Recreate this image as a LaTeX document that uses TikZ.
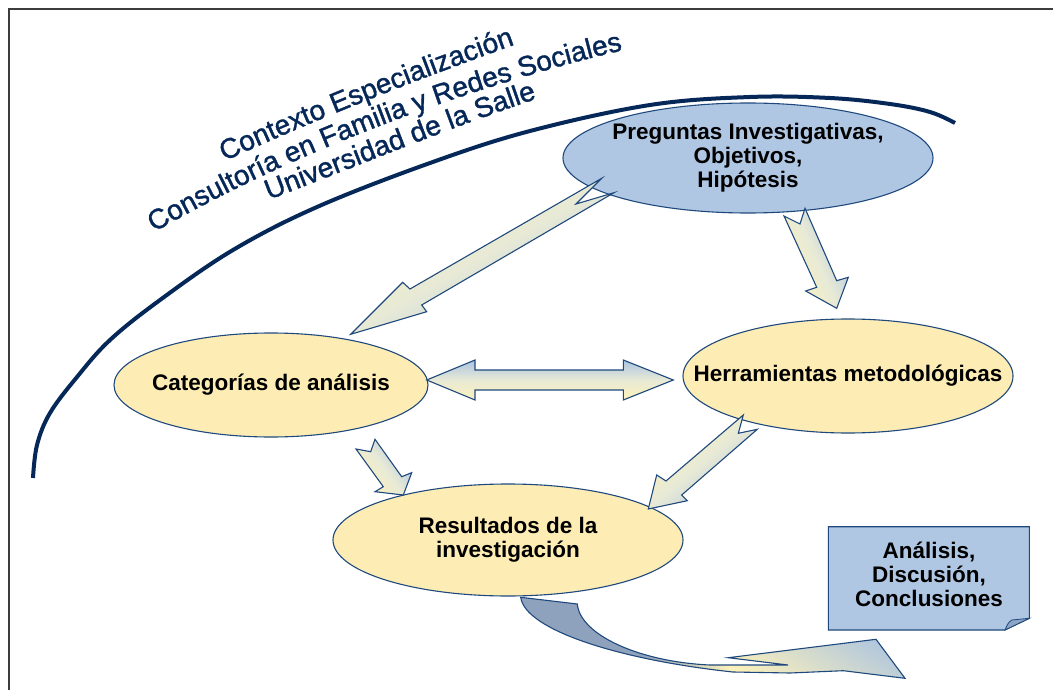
\documentclass[tikz,border=0pt]{standalone}
\usepackage{fontspec}
\setmainfont{Liberation Sans}
\newfontfamily\arcfam[FakeBold=1.3]{Liberation Sans}
\usetikzlibrary{shapes.geometric,decorations.text}
\definecolor{navy}{RGB}{31,73,125}
\definecolor{arcblue}{RGB}{6,40,88}
\definecolor{ellyel}{RGB}{253,237,181}
\definecolor{ellblu}{RGB}{176,199,228}
\definecolor{ayel}{RGB}{252,241,186}
\definecolor{ablu}{RGB}{170,195,225}
\definecolor{amid}{RGB}{232,234,214}
\definecolor{slate}{RGB}{142,162,189}
\definecolor{flapc}{RGB}{140,165,198}
\definecolor{framec}{RGB}{60,60,60}
\newcommand\nodefont{\bfseries\fontsize{22.5}{24}\selectfont}
\newcommand\arcfont{\arcfam\fontsize{28}{30}\selectfont}
\begin{document}
\begin{tikzpicture}[x=1pt,y=-1pt,
  ell/.style={ellipse, draw=navy, line width=1.1, inner sep=0pt},
  lbl/.style={align=center, font=\nodefont, text=black, inner sep=0pt},
  blk/.style={draw=navy, line width=1.1, line join=miter},
  grad/.style={top color=ayel, bottom color=ablu, middle color=amid, shading angle=#1},
  arctext/.style={decorate, decoration={text along path, text align=center, text color=arcblue, text={#1}}}]
\useasboundingbox (0,0) rectangle (1053,690);
\fill[white] (0,0) rectangle (1053,690);
% frame
\draw[framec, line width=2] (9,690) -- (9,9) -- (1053,9);
% big arc
\draw[arcblue, line width=4] plot[smooth, tension=0.6] coordinates {(33,478) (37,445) (50,413) (77,377) (110,340) (160,300) (233,250) (317,207) (430,163) (530,131) (650,105) (750,97) (830,98) (890,104) (930,112) (955,123)};
% arched title text
\path[arctext={|\arcfont|Contexto Especialización}] (212,167) .. controls (313,120) and (418,79) .. (528,40);
\path[arctext={|\arcfont|Consultoría en Familia y Redes Sociales}] (146,237) .. controls (285,155) and (468,86) .. (632,48);
\path[arctext={|\arcfont|Universidad de la Salle}] (258,204) .. controls (353,168) and (445,129) .. (548,95);
% ellipses
\node[ell, fill=ellblu, minimum width=370, minimum height=110] (preg) at (748,158) {};
\node[lbl] (pregt) at (preg.center) {Preguntas Investigativas,\\Objetivos,\\Hipótesis};
\node[ell, fill=ellyel, minimum width=314, minimum height=104] (cat) at (271,385) {};
\node[lbl] (catt) at (cat.center) {Categorías de análisis};
\node[ell, fill=ellyel, minimum width=330, minimum height=114] (herr) at (848,376) {};
\node[lbl] (herrt) at (herr.center) {Herramientas metodológicas};
\node[ell, fill=ellyel, minimum width=350, minimum height=112] (res) at (508,540) {};
\node[lbl] (rest) at (res.center) {Resultados de la\\investigación};
% block arrows
\draw[blk, grad=30] (601.7,178.3) -- (576,204) -- (614,192.7) -- (421.7,305) -- (426.7,311.7) -- (350.7,334.3) -- (402.7,282.3) -- (410,289) -- cycle;
\draw[blk, grad=114] (784,216) -- (800,224) -- (805,208.3) -- (836.7,280.7) -- (848.3,277.3) -- (836.7,308.3) -- (805.7,291) -- (816.7,287.3) -- cycle;
\draw[blk, grad=180] (426.7,380) -- (475,360) -- (475,370) -- (623.3,370) -- (623.3,360) -- (673.3,380) -- (623.3,400) -- (623.3,390) -- (475,390) -- (475,400) -- cycle;
\draw[blk, grad=127] (356,449) -- (370.7,451.7) -- (375,439.3) -- (401.7,476.7) -- (411.7,472.7) -- (403.3,495) -- (375,491.7) -- (383.3,486.7) -- cycle;
\draw[blk, grad=40] (743.3,415) -- (738.3,433.3) -- (757.3,429.3) -- (681.7,495) -- (687.3,500.7) -- (648.3,509) -- (656.7,475) -- (666,481) -- cycle;
% curved arrow
\begin{scope}
\clip (520.7,597.3) -- (577.3,604) .. controls (580,635) and (640,662) .. (710,665) -- (788,665) -- (728.3,657.7) -- (876,639.3) -- (905,678.3) -- (843.3,670.7) -- (790,673) -- (733,672) .. controls (620,660) and (525,630) .. (520.7,597.3) -- cycle;
\fill[slate] (500,580) rectangle (920,690);
\shade[left color=slate, right color=ayel] (640,630) rectangle (730,690);
\shade[top color=ablu, bottom color=ayel, shading angle=-30] (730,630) rectangle (915,690);
\end{scope}
\draw[blk] (520.7,597.3) -- (577.3,604) .. controls (580,635) and (640,662) .. (710,665) -- (788,665) -- (728.3,657.7) -- (876,639.3) -- (905,678.3) -- (843.3,670.7) -- (790,673) -- (733,672) .. controls (620,660) and (525,630) .. (520.7,597.3) -- cycle;
% note box
\draw[blk, fill=ellblu] (828.3,526.7) -- (1029.3,526.7) -- (1029.3,618.3) -- (1005,630) -- (828.3,630) -- cycle;
\draw[navy, line width=0.8, fill=flapc] (1029.3,618.3) -- (1011.7,620) .. controls (1008,623) .. (1005,630) -- cycle;
\node[lbl] (note) at (929,574) {Análisis,\\Discusión,\\Conclusiones};
\end{tikzpicture}
\end{document}
